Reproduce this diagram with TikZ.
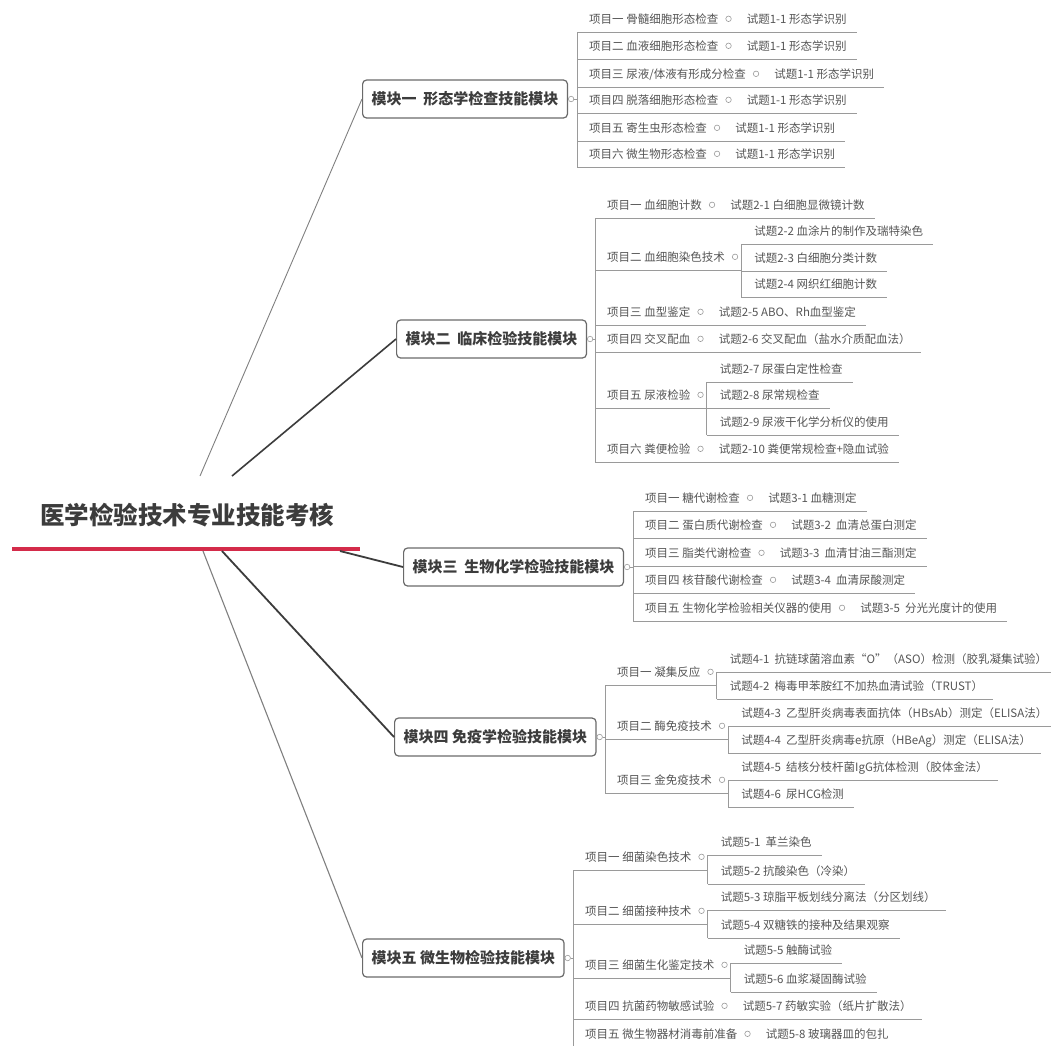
\documentclass[tikz,border=0pt]{standalone}
\usepackage{fontspec}
\setmainfont{Noto Sans CJK SC}
\usetikzlibrary{positioning}

\definecolor{testo}{HTML}{555555}
\definecolor{linea}{HTML}{9A9A9A}
\definecolor{scuro}{HTML}{3C3C3C}
\definecolor{bordo}{HTML}{6A6A6A}
\definecolor{rosso}{HTML}{D42B4A}

\tikzset{
    itm/.style={anchor=south west,inner sep=0pt,text height=17.4pt,text depth=8.6pt,
        font=\fontsize{11.5}{13}\selectfont,text=testo},
    dot/.style={circle,draw=linea,fill=white,line width=0.6pt,inner sep=0pt,minimum size=5.5pt},
    ln/.style={draw=linea,line width=0.7pt},
    modulo/.style={anchor=west,draw=bordo,fill=white,line width=1.2pt,rounded corners=4pt,
        minimum height=38pt,inner xsep=9pt,text=scuro,font=\bfseries\fontsize{15}{17}\selectfont},
    titolo/.style={text=scuro,font=\bfseries\fontsize{24.5}{28}\selectfont},
    ramo/.style={draw=scuro,line width=1.6pt},
}

% riga con progetto e prova
\newcommand{\ramo}[5]{%
    \node[itm,xshift=12pt] (#1) at (#2 |- 0,#3) {#4};
    \node[dot,right=7pt of #1] (#1o) {};
    \node[itm,right=15pt of #1o] (#1t) {#5};
    \draw[ln] (#2 |- #1.south) -- ([xshift=10pt]#1t.south east);
}
% progetto con piu prove
\newcommand{\nodo}[4]{%
    \node[itm,xshift=12pt] (#1) at (#2 |- 0,#3) {#4};
    \node[dot,right=7pt of #1] (#1o) {};
    \coordinate (#1s) at ([xshift=3pt]#1o.east);
    \draw[ln] (#2 |- #1.south) -- (#1s |- #1.south);
}
% singola prova
\newcommand{\foglia}[4]{%
    \node[itm,xshift=13pt] (#1) at (#2 |- 0,#3) {#4};
    \draw[ln] (#2 |- #1.south) -- ([xshift=10pt]#1.south east);
}

\begin{document}
\begin{tikzpicture}[x=1pt,y=-1pt]
        \useasboundingbox[fill=white] (0,0) rectangle (1051,1045);
        %titolo
        \node[titolo] (tit) at (187,515) {医学检验技术专业技能考核};
        \coordinate (rs) at (12,549);
        \coordinate (rd) at (360,549);
        \draw[rosso,line width=4pt] (rs) -- (rd);
        %rami dal titolo
        \coordinate (p1) at (200,476);
        \coordinate (p2) at (232,476);
        \coordinate (p3) at (340,551);
        \coordinate (p4) at (222,551);
        \coordinate (p5) at (203,551);
        %moduli
        \node[modulo] (mod1) at (362,99) {模块一\ \ 形态学检查技能模块};
        \node[modulo] (mod2) at (396,339) {模块二\ \ 临床检验技能模块};
        \node[modulo] (mod3) at (403,567) {模块三\ \ 生物化学检验技能模块};
        \node[modulo] (mod4) at (394,737) {模块四 免疫学检验技能模块};
        \node[modulo] (mod5) at (362,958) {模块五 微生物检验技能模块};
        \draw[ramo,line width=0.9pt,draw=gray] (p1) -- (mod1.west);
        \draw[ramo] (p2) -- (mod2.west);
        \draw[ramo,line width=1.8pt] (p3) -- (mod3.west);
        \draw[ramo,line width=1.8pt] (p4) -- (mod4.west);
        \draw[ramo,line width=1.1pt,draw=gray] (p5) -- (mod5.west);
        %modulo uno
        \coordinate (v1) at (577,32);
        \foreach \n/\y/\t in {a1/32/项目一 骨髓细胞形态检查,a2/59/项目二 血液细胞形态检查,
            a3/87/{项目三 尿液/体液有形成分检查},a4/113/项目四 脱落细胞形态检查,
            a5/141/项目五 寄生虫形态检查,a6/167/项目六 微生物形态检查}
            {\ramo{\n}{v1}{\y}{\t}{试题1-1 形态学识别}}
        \draw[ln] (v1) -- (v1 |- a6.south);
        \node[dot,right=0pt of mod1] (mod1o) {};
        \draw[ln] (mod1o) -- (mod1o -| v1);
        %modulo due
        \coordinate (v2) at (595,218);
        \ramo{b1}{v2}{218}{项目一 血细胞计数}{试题2-1 白细胞显微镜计数}
        \nodo{b2}{v2}{270}{项目二 血细胞染色技术}
        \foglia{b2a}{b2s}{244}{试题2-2 血涂片的制作及瑞特染色}
        \foglia{b2b}{b2s}{271}{试题2-3 白细胞分类计数}
        \foglia{b2c}{b2s}{297}{试题2-4 网织红细胞计数}
        \draw[ln] (b2s |- b2a.south) -- (b2s |- b2c.south);
        \ramo{b3}{v2}{325}{项目三 血型鉴定}{试题2-5 ABO、Rh血型鉴定}
        \ramo{b4}{v2}{352}{项目四 交叉配血}{试题2-6 交叉配血（盐水介质配血法）}
        \nodo{b5}{v2}{408}{项目五 尿液检验}
        \foglia{b5a}{b5s}{382}{试题2-7 尿蛋白定性检查}
        \foglia{b5b}{b5s}{408}{试题2-8 尿常规检查}
        \foglia{b5c}{b5s}{435}{试题2-9 尿液干化学分析仪的使用}
        \draw[ln] (b5s |- b5a.south) -- (b5s |- b5c.south);
        \ramo{b6}{v2}{462}{项目六 粪便检验}{试题2-10 粪便常规检查+隐血试验}
        \draw[ln] (v2) -- (v2 |- b6.south);
        \node[dot,right=0pt of mod2] (mod2o) {};
        \draw[ln] (mod2o) -- (mod2o -| v2);
        %modulo tre
        \coordinate (v3) at (633,511);
        \ramo{c1}{v3}{511}{项目一 糖代谢检查}{试题3-1 血糖测定}
        \ramo{c2}{v3}{538}{项目二 蛋白质代谢检查}{试题3-2\ \ 血清总蛋白测定}
        \ramo{c3}{v3}{566}{项目三 脂类代谢检查}{试题3-3\ \ 血清甘油三酯测定}
        \ramo{c4}{v3}{593}{项目四 核苷酸代谢检查}{试题3-4\ \ 血清尿酸测定}
        \ramo{c5}{v3}{621}{项目五 生物化学检验相关仪器的使用}{试题3-5\ \ 分光光度计的使用}
        \draw[ln] (v3) -- (v3 |- c5.south);
        \node[dot,right=0pt of mod3] (mod3o) {};
        \draw[ln] (mod3o) -- (mod3o -| v3);
        %modulo quattro
        \coordinate (v4) at (605,685);
        \nodo{d1}{v4}{685}{项目一 凝集反应}
        \foglia{d1a}{d1s}{672}{试题4-1\ \ 抗链球菌溶血素“O”（ASO）检测（胶乳凝集试验）}
        \foglia{d1b}{d1s}{699}{试题4-2\ \ 梅毒甲苯胺红不加热血清试验（TRUST）}
        \draw[ln] (d1s |- d1a.south) -- (d1s |- d1b.south);
        \nodo{d2}{v4}{739}{项目二 酶免疫技术}
        \foglia{d2a}{d2s}{726}{试题4-3\ \ 乙型肝炎病毒表面抗体（HBsAb）测定（ELISA法）}
        \foglia{d2b}{d2s}{753}{试题4-4\ \ 乙型肝炎病毒e抗原（HBeAg）测定（ELISA法）}
        \draw[ln] (d2s |- d2a.south) -- (d2s |- d2b.south);
        \nodo{d3}{v4}{793}{项目三 金免疫技术}
        \foglia{d3a}{d3s}{780}{试题4-5\ \ 结核分枝杆菌IgG抗体检测（胶体金法）}
        \foglia{d3b}{d3s}{807}{试题4-6\ \ 尿HCG检测}
        \draw[ln] (d3s |- d3a.south) -- (d3s |- d3b.south);
        \draw[ln] (v4) -- (v4 |- d3.south);
        \node[dot,right=0pt of mod4] (mod4o) {};
        \draw[ln] (mod4o) -- (mod4o -| v4);
        %modulo cinque
        \coordinate (v5) at (573,870);
        \nodo{e1}{v5}{870}{项目一 细菌染色技术}
        \foglia{e1a}{e1s}{855}{试题5-1\ \ 革兰染色}
        \foglia{e1b}{e1s}{884}{试题5-2 抗酸染色（冷染）}
        \draw[ln] (e1s |- e1a.south) -- (e1s |- e1b.south);
        \nodo{e2}{v5}{924}{项目二 细菌接种技术}
        \foglia{e2a}{e2s}{910}{试题5-3 琼脂平板划线分离法（分区划线）}
        \foglia{e2b}{e2s}{938}{试题5-4 双糖铁的接种及结果观察}
        \draw[ln] (e2s |- e2a.south) -- (e2s |- e2b.south);
        \nodo{e3}{v5}{978}{项目三 细菌生化鉴定技术}
        \foglia{e3a}{e3s}{963}{试题5-5 触酶试验}
        \foglia{e3b}{e3s}{992}{试题5-6 血浆凝固酶试验}
        \draw[ln] (e3s |- e3a.south) -- (e3s |- e3b.south);
        \ramo{e4}{v5}{1019}{项目四 抗菌药物敏感试验}{试题5-7 药敏实验（纸片扩散法）}
        \ramo{e5}{v5}{1047}{项目五 微生物器材消毒前准备}{试题5-8 玻璃器皿的包扎}
        \draw[ln] (v5) -- (v5 |- e5.south);
        \node[dot,right=0pt of mod5] (mod5o) {};
        \draw[ln] (mod5o) -- (mod5o -| v5);
\end{tikzpicture}
\end{document}
